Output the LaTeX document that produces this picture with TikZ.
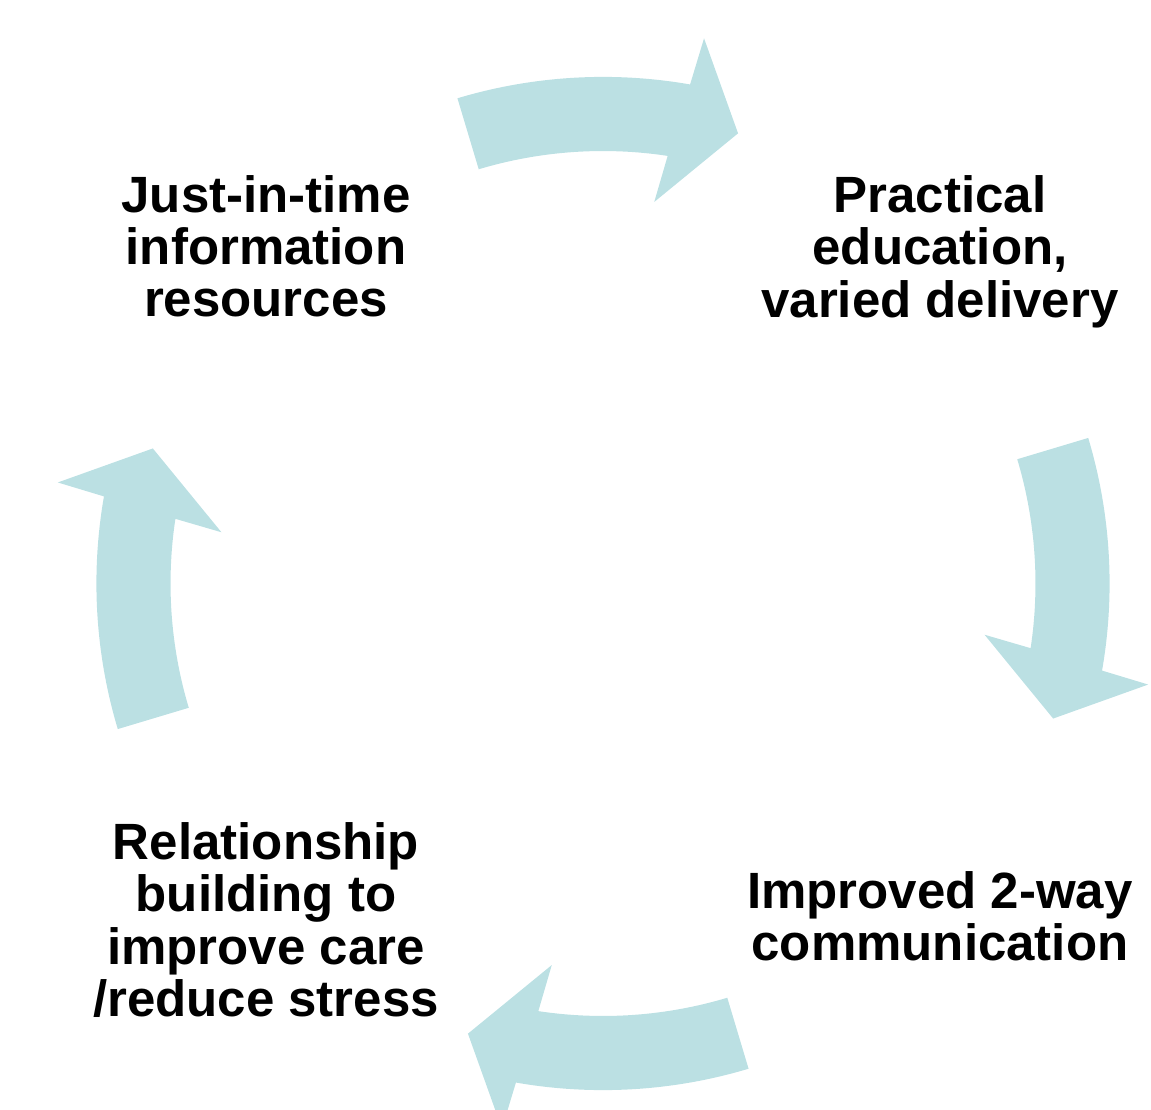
\documentclass[tikz,border=0pt]{standalone}
\usepackage{fontspec}
\setmainfont{Liberation Sans}
\definecolor{arrowblue}{RGB}{187,224,227}
\begin{document}
\begin{tikzpicture}[x=1pt,y=-1pt,
  lbl/.style={font=\fontsize{51}{52}\selectfont\bfseries, inner sep=0pt, anchor=base},
  cyclearrow/.style={fill=arrowblue, draw=none}]
\useasboundingbox (0,0) rectangle (1151,1110);
% curved block arrows around the cycle centre
\begin{scope}[shift={(603pt,-583.5pt)}, x=1pt, y=1pt]
  \foreach \r in {0,-90,-180,-270}{
    \path[cyclearrow]
      (\r+106.7:506.6)
      arc[start angle=\r+106.7, end angle=\r+80.1, radius=506.6]
      -- (\r+79.5:554.5)
      -- (\r+73.3:470)
      -- (\r+82.35:385)
      -- (\r+81.4:432.5)
      arc[start angle=\r+81.4, end angle=\r+106.7, radius=432.5]
      -- cycle;
  }
\end{scope}
% labels
\node[lbl] (jit) at (266,212) {\begin{tabular}[t]{@{}c@{}}Just-in-time\\information\\resources\end{tabular}};
\node[lbl] (prac) at (940,212) {\begin{tabular}[t]{@{}c@{}}Practical\\education,\\varied delivery\end{tabular}};
\node[lbl] (impr) at (940,908) {\begin{tabular}[t]{@{}c@{}}Improved 2-way\\communication\end{tabular}};
\node[lbl] (rel) at (266,859) {\begin{tabular}[t]{@{}c@{}}Relationship\\building to\\improve care\\/reduce stress\end{tabular}};
\end{tikzpicture}
\end{document}
